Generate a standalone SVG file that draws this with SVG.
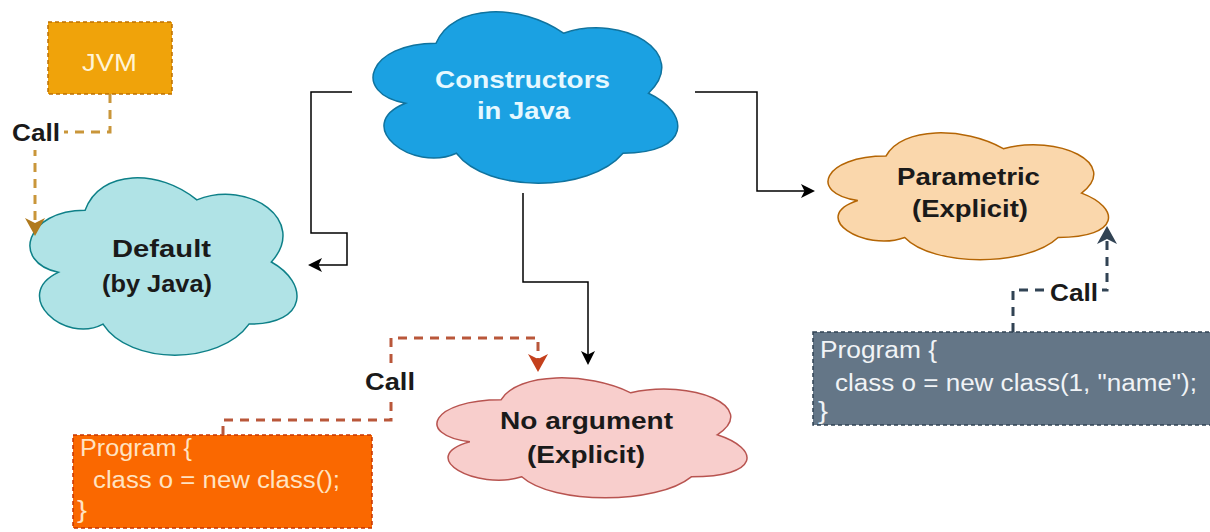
<svg xmlns="http://www.w3.org/2000/svg" xmlns:xlink="http://www.w3.org/1999/xlink" width="1210" height="532" viewBox="0 0 1210 532">
<defs>
<style>
.lbl{font-family:"Liberation Sans",Arial,sans-serif;font-weight:bold;font-size:23px;fill:#1a1a1a}
.code{font-family:"Liberation Sans",Arial,sans-serif;font-size:23px}
.cloud{stroke-width:1.5}
.box{stroke-width:1.5;stroke-dasharray:4 3}
.conn{fill:none;stroke:#000;stroke-width:1.5}
.dash{fill:none;stroke-width:3;stroke-dasharray:9 7}
.lblbg{fill:#fff}
</style>
<path id="cloudShape" vector-effect="non-scaling-stroke" d="M25,25 C5,25 0,50 16,55 C0,66 18,90 31,80 C40,100 70,100 80,80 C100,80 100,60 87.5,50 C100,30 80,10 62.5,20 C50,5 30,5 25,25 Z"/>
<marker id="arrBlack" markerUnits="userSpaceOnUse" markerWidth="16" markerHeight="16" refX="8" refY="7" orient="auto">
<path d="M0,0 L14,7 L0,14 L3.5,7 Z" fill="#000"/>
</marker>
<marker id="arrGold" markerUnits="userSpaceOnUse" markerWidth="20" markerHeight="22" refX="9" refY="10" orient="auto">
<path d="M0,0 L18,10 L0,20 L5,10 Z" fill="#B07A1E"/>
</marker>
<marker id="arrRed" markerUnits="userSpaceOnUse" markerWidth="20" markerHeight="22" refX="9" refY="10" orient="auto">
<path d="M0,0 L18,10 L0,20 L5,10 Z" fill="#C4401C"/>
</marker>
<marker id="arrSlate" markerUnits="userSpaceOnUse" markerWidth="20" markerHeight="22" refX="9" refY="10" orient="auto">
<path d="M0,0 L18,10 L0,20 L5,10 Z" fill="#314354"/>
</marker>
</defs>
<rect width="1210" height="532" fill="#fff"/>

<g id="jvm">
<rect class="box" x="48" y="22" width="124" height="72" fill="#F0A30A" stroke="#BD7000"/>
<text class="code" x="82" y="71" textLength="55" lengthAdjust="spacingAndGlyphs" fill="#FFF4D6">JVM</text>
</g>

<g id="constructors">
<use xlink:href="#cloudShape" class="cloud" transform="translate(351,-6.8) scale(3.40,2.00)" fill="#1BA1E2" stroke="#10739E"/>
<text class="lbl" x="435" y="88" textLength="175" lengthAdjust="spacingAndGlyphs" style="fill:#E6F8FF;font-size:24px">Constructors</text>
<text class="lbl" x="477" y="119" textLength="93" lengthAdjust="spacingAndGlyphs" style="fill:#E6F8FF;font-size:24px">in Java</text>
</g>

<g id="default">
<use xlink:href="#cloudShape" class="cloud" transform="translate(10.6,158.5) scale(2.98,2.07)" fill="#B0E3E6" stroke="#0E8088"/>
<text class="lbl" x="112" y="257" textLength="99" lengthAdjust="spacingAndGlyphs">Default</text>
<text class="lbl" x="102" y="292" textLength="110" lengthAdjust="spacingAndGlyphs">(by Java)</text>
</g>

<g id="parametric">
<use xlink:href="#cloudShape" class="cloud" transform="translate(807.7,119.1) scale(3.13,1.48)" fill="#FAD7AC" stroke="#B46504"/>
<text class="lbl" x="897" y="185" textLength="143" lengthAdjust="spacingAndGlyphs">Parametric</text>
<text class="lbl" x="912" y="217" textLength="116" lengthAdjust="spacingAndGlyphs">(Explicit)</text>
</g>

<g id="noargument">
<use xlink:href="#cloudShape" class="cloud" transform="translate(414.5,364.8) scale(3.46,1.40)" fill="#F8CECC" stroke="#B85450"/>
<text class="lbl" x="500" y="429" textLength="173" lengthAdjust="spacingAndGlyphs">No argument</text>
<text class="lbl" x="527" y="463" textLength="118" lengthAdjust="spacingAndGlyphs">(Explicit)</text>
</g>

<g id="program-noarg">
<rect class="box" x="73" y="435" width="299" height="93" fill="#FA6800" stroke="#C73500"/>
<text class="code" x="80" y="456" textLength="112" lengthAdjust="spacingAndGlyphs" fill="#FFE3C2">Program {</text>
<text class="code" x="93" y="488" textLength="247" lengthAdjust="spacingAndGlyphs" fill="#FFE3C2">class o = new class();</text>
<text class="code" x="77" y="518" textLength="10" lengthAdjust="spacingAndGlyphs" fill="#FFE3C2">}</text>
</g>

<g id="program-param">
<rect class="box" x="813" y="332" width="402" height="93" fill="#647687" stroke="#314354"/>
<text class="code" x="820" y="358" textLength="117" lengthAdjust="spacingAndGlyphs" fill="#F0F3F6">Program {</text>
<text class="code" x="835" y="391" textLength="362" lengthAdjust="spacingAndGlyphs" fill="#F0F3F6">class o = new class(1, "name");</text>
<text class="code" x="818" y="419" textLength="10" lengthAdjust="spacingAndGlyphs" fill="#F0F3F6">}</text>
</g>

<g id="connectors">
<path class="conn" d="M352,92 H311 V233 H347 V265 H314" marker-end="url(#arrBlack)"/>
<path class="conn" d="M523,193 V282 H588 V359" marker-end="url(#arrBlack)"/>
<path class="conn" d="M695,92 H757 V191 H809" marker-end="url(#arrBlack)"/>

<path class="dash" d="M110,94 V132 H35 V227" stroke="#C9963A" marker-end="url(#arrGold)"/>
<rect class="lblbg" x="8" y="118" width="56" height="32"/>
<text class="lbl" x="12" y="141" textLength="48" lengthAdjust="spacingAndGlyphs">Call</text>

<path class="dash" d="M223,435 V420 H391 V338 H538 V363" stroke="#B9573A" marker-end="url(#arrRed)"/>
<rect class="lblbg" x="362" y="367" width="58" height="30"/>
<text class="lbl" x="365" y="390" textLength="50" lengthAdjust="spacingAndGlyphs">Call</text>

<path class="dash" d="M1013,332 V290 H1107 V235" stroke="#314354" marker-end="url(#arrSlate)"/>
<rect class="lblbg" x="1044" y="278" width="58" height="28"/>
<text class="lbl" x="1050" y="301" textLength="48" lengthAdjust="spacingAndGlyphs">Call</text>
</g>
</svg>
